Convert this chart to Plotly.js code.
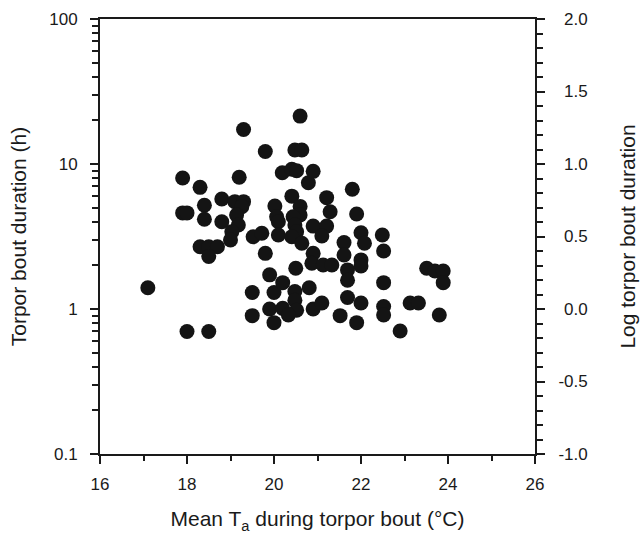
<!DOCTYPE html>
<html>
<head>
<meta charset="utf-8">
<script src="https://cdn.plot.ly/plotly-3.0.1.min.js"></script>
<style>html,body{margin:0;padding:0;background:#fff;}#chart{width:640px;height:534px;}</style>
</head>
<body>
<div id="chart"></div>
<script>
// Mean ambient temperature during torpor bout (°C)
const meanTa = [
  17.1, 17.9, 17.9, 18.0, 18.0, 18.5, 18.3, 18.4, 18.4, 18.3,
  18.5, 18.7, 18.5, 18.8, 18.8, 19.1, 19.3, 19.26, 19.14, 19.18,
  19.03, 19.0, 19.2, 19.3, 19.52, 19.72, 19.8, 19.8, 19.9, 19.5,
  20.0, 19.5, 19.9, 20.0, 20.2, 20.2, 20.02, 20.06, 20.1, 20.1,
  20.19, 20.41, 20.52, 20.48, 20.64, 20.6, 20.41, 20.6, 20.6, 20.44,
  20.48, 20.52, 20.41, 20.64, 20.5, 20.48, 20.48, 20.52, 20.33, 20.79,
  20.9, 20.81, 20.9, 20.9, 20.87, 20.9, 21.21, 21.1, 21.13, 21.33,
  21.1, 21.21, 21.29, 21.52, 21.61, 21.61, 21.69, 21.69, 21.69, 21.8,
  21.9, 21.9, 22.0, 22.08, 22.0, 22.0, 22.0, 22.49, 22.52, 22.52,
  22.52, 22.52, 22.9, 23.13, 23.32, 23.51, 23.7, 23.89, 23.89, 23.8
];
// Torpor bout duration (h)
const boutHours = [
  1.40, 8.0, 4.6, 4.6, 0.70, 0.70, 6.9, 5.2, 4.16, 2.69,
  2.69, 2.69, 2.30, 5.74, 4.0, 5.5, 5.5, 5.08, 4.45, 3.8,
  3.41, 2.99, 8.1, 17.3, 3.15, 3.33, 12.2, 2.42, 1.72, 1.30,
  1.30, 0.90, 1.0, 0.805, 1.01, 1.52, 5.13, 4.33, 4.0, 3.24,
  8.7, 9.2, 9.0, 12.5, 12.5, 21.4, 6.0, 5.1, 4.45, 4.33,
  3.80, 3.41, 3.15, 2.84, 1.91, 1.32, 1.15, 0.98, 0.91, 7.43,
  8.9, 1.40, 3.73, 2.42, 2.07, 1.0, 3.73, 3.19, 2.01, 2.01,
  1.10, 5.86, 4.69, 0.90, 2.87, 2.36, 1.86, 1.58, 1.20, 6.69,
  4.52, 0.805, 3.36, 2.84, 2.18, 1.98, 1.10, 3.24, 2.51, 1.52,
  1.04, 0.91, 0.705, 1.10, 1.10, 1.91, 1.83, 1.83, 1.52, 0.91
];
// Tick labels
const xTicks = [16, 18, 20, 22, 24, 26];
const yTicks = [0.1, 1, 10, 100];
const yTickLabels = ['0.1', '1', '10', '100'];
const yMinor = [0.2,0.3,0.4,0.5,0.6,0.7,0.8,0.9,2,3,4,5,6,7,8,9,20,30,40,50,60,70,80,90];
const y2Ticks = [-1, -0.5, 0, 0.5, 1, 1.5, 2];
const y2TickLabels = ['-1.0', '-0.5', '\u20040.0', '\u20040.5', '\u20041.0', '\u20041.5', '\u20042.0'];

const FONT = 'Liberation Sans, Arial, Helvetica, sans-serif';
const INK = '#1a1a1a';

const traces = [
  {
    type: 'scatter', mode: 'markers',
    x: meanTa, y: boutHours,
    marker: {size: 15, color: '#141414', line: {width: 0}},
    hoverinfo: 'x+y'
  },
  {
    type: 'scatter', mode: 'markers',
    x: [], y: [], yaxis: 'y2', hoverinfo: 'skip', showlegend: false
  }
];

const layout = {
  width: 640, height: 534,
  margin: {l: 100, r: 105, t: 19, b: 80, pad: 0},
  paper_bgcolor: '#fff', plot_bgcolor: '#fff',
  showlegend: false,
  font: {family: FONT, size: 17, color: INK},
  xaxis: {
    range: [16, 26],
    tickmode: 'array', tickvals: xTicks,
    ticks: 'outside', ticklen: 8, tickwidth: 2, tickcolor: INK,
    ticklabelstandoff: 6,
    minor: {dtick: 1, ticks: 'outside', ticklen: 5, tickwidth: 2, tickcolor: INK},
    showline: true, linewidth: 2, linecolor: INK, mirror: true,
    showgrid: false, zeroline: false,
    tickfont: {size: 17, family: FONT, color: INK},
    title: {text: 'Mean T<sub>a</sub> during torpor bout (°C)', font: {size: 21, family: FONT, color: INK}, standoff: 18}
  },
  yaxis: {
    type: 'log', range: [-1, 2],
    tickmode: 'array', tickvals: yTicks, ticktext: yTickLabels,
    ticks: 'outside', ticklen: 8, tickwidth: 2, tickcolor: INK,
    ticklabelstandoff: 9,
    minor: {tickmode: 'array', tickvals: yMinor, ticks: 'outside', ticklen: 6, tickwidth: 2, tickcolor: INK},
    showline: true, linewidth: 2, linecolor: INK,
    showgrid: false, zeroline: false,
    tickfont: {size: 17, family: FONT, color: INK},
    title: {text: 'Torpor bout duration (h)', font: {size: 21, family: FONT, color: INK}, standoff: 17}
  },
  yaxis2: {
    overlaying: 'y', side: 'right', anchor: 'x',
    range: [-1, 2],
    tickmode: 'array', tickvals: y2Ticks, ticktext: y2TickLabels,
    ticks: 'outside', ticklen: 8, tickwidth: 2, tickcolor: INK,
    ticklabelstandoff: 10,
    minor: {dtick: 0.1, ticks: 'outside', ticklen: 6, tickwidth: 2, tickcolor: INK},
    showline: true, linewidth: 2, linecolor: INK,
    showgrid: false, zeroline: false,
    tickfont: {size: 17, family: FONT, color: INK},
    title: {text: 'Log torpor bout duration', font: {size: 21, family: FONT, color: INK}, standoff: 34}
  }
};

Plotly.newPlot('chart', traces, layout, {displayModeBar: false, staticPlot: true});
</script>
</body>
</html>
